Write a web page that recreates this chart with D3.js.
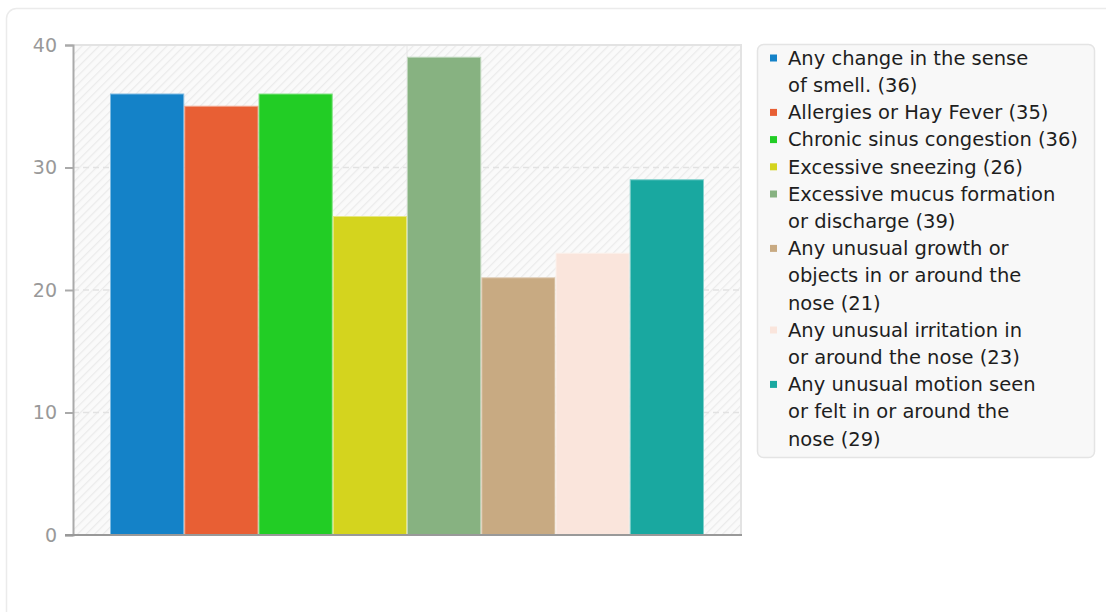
<!DOCTYPE html>
<html>
<head>
<meta charset="utf-8">
<script src="https://cdn.jsdelivr.net/npm/d3@7"></script>
<style>
  html, body { margin: 0; padding: 0; background: #fff; }
  svg { display: block; font-family: "DejaVu Sans", sans-serif; }
</style>
</head>
<body>
<svg id="chart" width="1106" height="612"></svg>
<script>
const categories = [
  "Any change in the sense of smell.",
  "Allergies or Hay Fever",
  "Chronic sinus congestion",
  "Excessive sneezing",
  "Excessive mucus formation or discharge",
  "Any unusual growth or objects in or around the nose",
  "Any unusual irritation in or around the nose",
  "Any unusual motion seen or felt in or around the nose"
];
const values = [36, 35, 36, 26, 39, 21, 23, 29];
const colors = ["#1482c8", "#e85f34", "#22cd25", "#d4d41e", "#87b281", "#c8aa82", "#fae5dc", "#19a8a0"];
const yTicks = [0, 10, 20, 30, 40];

const svg = d3.select("#chart");
const plot = { left: 73, right: 741, top: 45, bottom: 535 };

// card
svg.append("rect")
  .attr("x", 6.5).attr("y", 8.5).attr("width", 1300).attr("height", 800)
  .attr("rx", 10).attr("fill", "#fff").attr("stroke", "#ebebeb").attr("stroke-width", 1.5);

// hatch pattern
const defs = svg.append("defs");
const pat = defs.append("pattern")
  .attr("id", "hatch").attr("patternUnits", "userSpaceOnUse")
  .attr("width", 6).attr("height", 6)
  .attr("patternTransform", "rotate(45)");
pat.append("rect").attr("width", 6).attr("height", 6).attr("fill", "#fafafa");
pat.append("line").attr("x1", 0).attr("y1", 0).attr("x2", 0).attr("y2", 6)
  .attr("stroke", "#ebebeb").attr("stroke-width", 2.5);

const y = d3.scaleLinear().domain([0, 40]).range([plot.bottom, plot.top]);
const x0 = d3.scaleBand().domain(["all"]).range([plot.left, plot.right])
  .paddingInner(0).paddingOuter(0.0623);
const x1 = d3.scaleBand().domain(d3.range(values.length)).range([0, x0.bandwidth()]).padding(0);

// plot background
svg.append("rect")
  .attr("x", plot.left).attr("y", plot.top)
  .attr("width", plot.right - plot.left).attr("height", plot.bottom - plot.top)
  .attr("fill", "url(#hatch)");

// horizontal dashed grid
svg.append("g").selectAll("line")
  .data(yTicks.filter(t => t > 0 && t < 40))
  .join("line")
  .attr("x1", plot.left).attr("x2", plot.right)
  .attr("y1", d => y(d)).attr("y2", d => y(d))
  .attr("stroke", "#e2e2e2").attr("stroke-width", 1.5).attr("stroke-dasharray", "6,4");

// vertical grid at category center
svg.append("line")
  .attr("x1", x0("all") + x0.bandwidth() / 2).attr("x2", x0("all") + x0.bandwidth() / 2)
  .attr("y1", plot.top).attr("y2", plot.bottom)
  .attr("stroke", "#e6e6e6").attr("stroke-width", 1);

// top and right borders
svg.append("line").attr("x1", plot.left).attr("x2", plot.right + 1)
  .attr("y1", plot.top).attr("y2", plot.top)
  .attr("stroke", "#e3e3e3").attr("stroke-width", 2);
svg.append("line").attr("x1", plot.right).attr("x2", plot.right)
  .attr("y1", plot.top).attr("y2", plot.bottom)
  .attr("stroke", "#e3e3e3").attr("stroke-width", 2);

// bars
svg.append("g").selectAll("rect")
  .data(values)
  .join("rect")
  .attr("x", (d, i) => x0("all") + x1(i) + 0.5)
  .attr("y", d => y(d))
  .attr("width", x1.bandwidth() - 1)
  .attr("height", d => y(0) - y(d))
  .attr("fill", (d, i) => colors[i])
  .attr("stroke", (d, i) => d3.interpolateRgb(colors[i], "#ffffff")(0.45))
  .attr("stroke-width", 1);

// y axis
const yAxis = d3.axisLeft(y).tickValues(yTicks).tickSize(8).tickPadding(8).tickFormat(d3.format("d"));
const ga = svg.append("g").attr("transform", `translate(${plot.left},0)`).call(yAxis);
ga.select(".domain").attr("stroke", "#aaa").attr("stroke-width", 2);
ga.selectAll(".tick line").attr("stroke", "#aaa").attr("stroke-width", 2);
ga.selectAll(".tick text").attr("fill", "#999").attr("font-size", 19)
  .attr("font-family", "DejaVu Sans, sans-serif");

// bottom axis line
svg.append("line").attr("x1", plot.left - 8).attr("x2", plot.right + 1)
  .attr("y1", plot.bottom).attr("y2", plot.bottom)
  .attr("stroke", "#999").attr("stroke-width", 2);

// legend
function wrap(label, max) {
  const words = label.split(" ");
  const lines = [];
  let cur = "";
  words.forEach(w => {
    const t = cur ? cur + " " + w : w;
    if (t.length > max && cur) { lines.push(cur); cur = w; }
    else cur = t;
  });
  lines.push(cur);
  return lines;
}
const legend = svg.append("g");
legend.append("rect")
  .attr("x", 757.5).attr("y", 44.5).attr("width", 337).attr("height", 413)
  .attr("rx", 6).attr("fill", "#f8f8f8").attr("stroke", "#e4e4e4").attr("stroke-width", 1.5);

const lineH = 27.2;
let lineIdx = 0;
categories.forEach((c, i) => {
  const lines = wrap(c, 25);
  lines[lines.length - 1] += " (" + values[i] + ")";
  const cy = 58 + lineH * lineIdx;
  legend.append("rect")
    .attr("x", 770).attr("y", cy - 3.5).attr("width", 7).attr("height", 7)
    .attr("fill", colors[i]);
  const t = legend.append("text")
    .attr("x", 788).attr("y", cy).attr("dy", "0.35em")
    .attr("font-size", 19.5).attr("fill", "#1e1e1e");
  lines.forEach((l, k) => {
    t.append("tspan").attr("x", 788).attr("y", cy + k * lineH).attr("dy", "0.35em").text(l);
  });
  lineIdx += lines.length;
});
</script>
</body>
</html>
